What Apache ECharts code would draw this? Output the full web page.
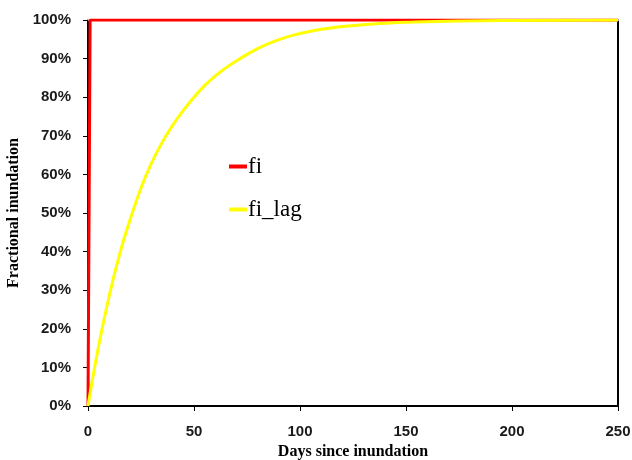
<!DOCTYPE html>
<html>
<head>
<meta charset="utf-8">
<script src="https://cdn.jsdelivr.net/npm/echarts@6/dist/echarts.min.js"></script>
<style>
  html, body { margin: 0; padding: 0; background: #fff; }
  #chart { width: 632px; height: 460px; }
</style>
</head>
<body>
<div id="chart"></div>
<script>
// Days since inundation and fractional inundation (%) for both series
const fiDays = [0, 1, 250];
const fiValues = [0, 100, 100];

const fiLagDays = [0, 2, 5, 10, 15, 20, 25, 30, 35, 40, 45, 50, 55, 60, 65, 70, 80, 90, 100, 110, 120, 130, 140, 150, 175, 200, 250];
const fiLagValues = [0, 6.5, 15.5, 28.5, 39.5, 48.5, 56.5, 63, 68.3, 72.8, 76.6, 80, 83, 85.5, 87.6, 89.4, 92.6, 94.9, 96.5, 97.6, 98.3, 98.8, 99.15, 99.4, 99.75, 99.9, 100];

const seriesNames = ['fi', 'fi_lag'];
const seriesColors = ['#ff0000', '#ffff00'];

const xTitle = 'Days since inundation';
const yTitle = 'Fractional inundation';

const pairs = (xs, ys) => xs.map((x, i) => [x, ys[i]]);

const chart = echarts.init(document.getElementById('chart'));

const tickLabel = {
  fontFamily: 'Liberation Sans, Arial, sans-serif',
  fontWeight: 'bold',
  fontSize: 15,
  color: '#1a1a1a'
};

const titleStyle = {
  fontFamily: 'Liberation Serif, Times New Roman, serif',
  fontWeight: 'bold',
  fontSize: 16,
  color: '#000'
};

chart.setOption({
  animation: false,
  backgroundColor: '#ffffff',
  grid: { left: 88, right: 14, top: 20, bottom: 54, containLabel: false, outerBoundsMode: 'none' },
  legend: {
    orient: 'vertical',
    left: 224,
    top: 150,
    itemGap: 20,
    itemWidth: 18,
    itemHeight: 4,
    icon: 'rect',
    data: seriesNames,
    textStyle: {
      fontFamily: 'Liberation Serif, Times New Roman, serif',
      fontSize: 23,
      color: '#000',
      padding: [0, 0, 0, -4]
    }
  },
  xAxis: [
    {
      type: 'value',
      min: 0,
      max: 250,
      interval: 50,
      name: xTitle,
      nameLocation: 'middle',
      nameGap: 37,
      nameTextStyle: titleStyle,
      axisLine: { show: true, lineStyle: { color: '#000', width: 2 } },
      axisTick: { show: true, length: 5, lineStyle: { color: '#000', width: 1 } },
      axisLabel: Object.assign({ margin: 18 }, tickLabel),
      splitLine: { show: false }
    },
    {
      type: 'value',
      position: 'top',
      min: 0,
      max: 250,
      axisLine: { show: true, onZero: false, lineStyle: { color: '#c8c8c8', width: 2 } },
      axisTick: { show: false },
      axisLabel: { show: false },
      splitLine: { show: false }
    }
  ],
  yAxis: [
    {
      type: 'value',
      min: 0,
      max: 100,
      interval: 10,
      name: yTitle,
      nameLocation: 'middle',
      nameGap: 59,
      nameTextStyle: titleStyle,
      axisLine: { show: true, lineStyle: { color: '#000', width: 2 } },
      axisTick: { show: true, length: 5, lineStyle: { color: '#000', width: 1 } },
      axisLabel: Object.assign({ margin: 17, formatter: '{value}%' }, tickLabel),
      splitLine: { show: false }
    },
    {
      type: 'value',
      position: 'right',
      min: 0,
      max: 100,
      axisLine: { show: true, onZero: false, lineStyle: { color: '#000', width: 2 } },
      axisTick: { show: false },
      axisLabel: { show: false },
      splitLine: { show: false }
    }
  ],
  series: [
    {
      name: seriesNames[0],
      type: 'line',
      data: pairs(fiDays, fiValues),
      showSymbol: false,
      symbol: 'none',
      lineStyle: { color: seriesColors[0], width: 3 },
      itemStyle: { color: seriesColors[0] },
      z: 3
    },
    {
      name: seriesNames[1],
      type: 'line',
      data: pairs(fiLagDays, fiLagValues),
      smooth: 0.5,
      showSymbol: false,
      symbol: 'none',
      lineStyle: { color: seriesColors[1], width: 3 },
      itemStyle: { color: seriesColors[1] },
      z: 4
    }
  ]
});
</script>
</body>
</html>
